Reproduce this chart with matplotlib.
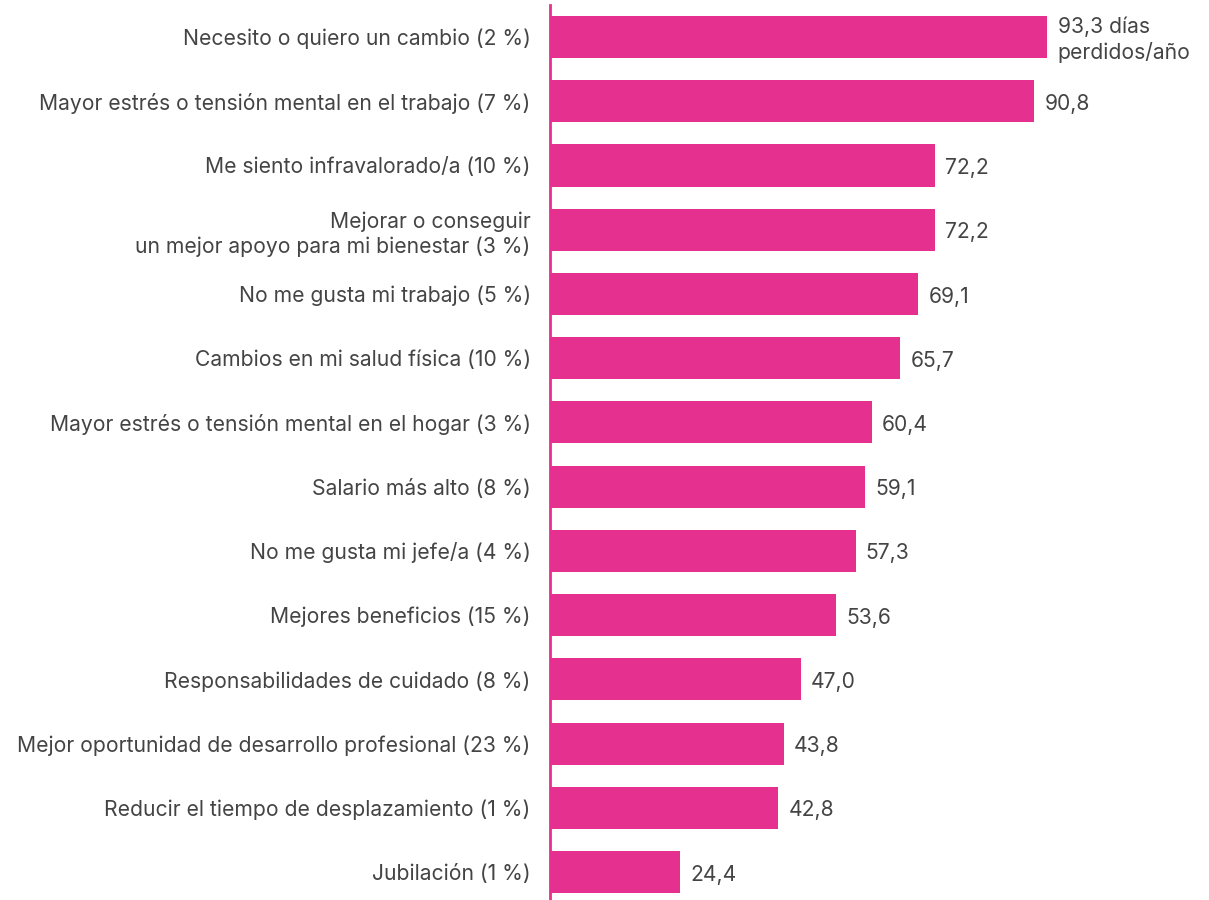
import matplotlib
matplotlib.use("Agg")
import matplotlib.pyplot as plt

# data
categories = [
    "Necesito o quiero un cambio (2 %)",
    "Mayor estrés o tensión mental en el trabajo (7 %)",
    "Me siento infravalorado/a (10 %)",
    "Mejorar o conseguir\nun mejor apoyo para mi bienestar (3 %)",
    "No me gusta mi trabajo (5 %)",
    "Cambios en mi salud física (10 %)",
    "Mayor estrés o tensión mental en el hogar (3 %)",
    "Salario más alto (8 %)",
    "No me gusta mi jefe/a (4 %)",
    "Mejores beneficios (15 %)",
    "Responsabilidades de cuidado (8 %)",
    "Mejor oportunidad de desarrollo profesional (23 %)",
    "Reducir el tiempo de desplazamiento (1 %)",
    "Jubilación (1 %)",
]
values = [93.3, 90.8, 72.2, 72.2, 69.1, 65.7, 60.4, 59.1, 57.3, 53.6, 47.0, 43.8, 42.8, 24.4]
value_labels = ["93,3 días\nperdidos/año", "90,8", "72,2", "72,2", "69,1", "65,7", "60,4",
                "59,1", "57,3", "53,6", "47,0", "43,8", "42,8", "24,4"]

PINK = "#E5308F"
TEXT = "#444444"

plt.rcParams['font.family'] = ['Inter', 'DejaVu Sans']
FS = 15.2

fig = plt.figure(figsize=(12.09, 9), dpi=100)
ax = fig.add_axes([0.455, 0.0, 0.545, 0.9944])

y = list(range(len(categories)))
ax.barh(y, values, height=0.655, color=PINK)

ax.set_xlim(0, 123.6)
ax.set_ylim(13.436, -0.498)

for yi, v, lab in zip(y, values, value_labels):
    ax.text(v + 1.9, yi + 0.04, lab, va="center", ha="left", fontsize=FS, color=TEXT,
            linespacing=1.3)

ax.set_yticks(y)
ax.set_yticklabels(categories, fontsize=FS, color=TEXT, linespacing=1.3,
                   multialignment="right")
ax.tick_params(axis="y", length=0, pad=14)
ax.set_xticks([])

for s in ["top", "right", "bottom"]:
    ax.spines[s].set_visible(False)
ax.spines["left"].set_color(PINK)
ax.spines["left"].set_linewidth(2)

fig.savefig("out.png", dpi=100)
